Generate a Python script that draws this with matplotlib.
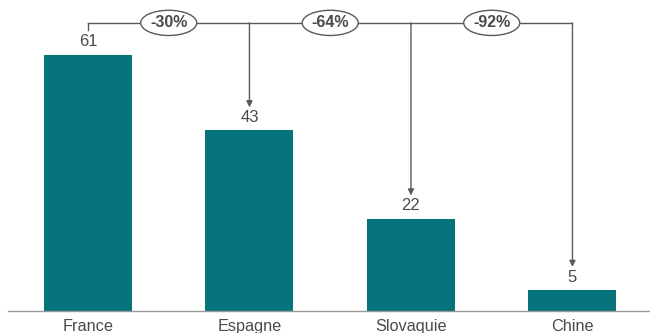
import matplotlib.pyplot as plt
from matplotlib.patches import Ellipse

# Data
pays = ["France", "Espagne", "Slovaquie", "Chine"]
valeurs = [61, 43, 22, 5]
ecarts = ["-30%", "-64%", "-92%"]

teal = "#07747c"
gris = "#4a4a4a"
ligne = "#5a5a5a"

plt.rcParams['font.family'] = ['Liberation Sans', 'DejaVu Sans']

fig = plt.figure(figsize=(6.5, 3.33), dpi=100)
ax = fig.add_axes([8 / 650, 22 / 333, 642 / 650, 311 / 333])

x = list(range(len(pays)))
ax.bar(x, valeurs, width=0.545, color=teal)

for xi, v in zip(x, valeurs):
    ax.text(xi, v + 1.3, str(v), ha="center", va="bottom", fontsize=12, color=gris)

# bracket with arrows from the first bar to the others
y_top = 68.6
ax.plot([x[0], x[-1]], [y_top, y_top], color=ligne, lw=1)
ax.plot([x[0], x[0]], [y_top, y_top - 1.6], color=ligne, lw=1)
for xi, v in zip(x[1:], valeurs[1:]):
    ax.annotate("", xy=(xi, v + 5.5), xytext=(xi, y_top),
                arrowprops=dict(arrowstyle="-|>", color=ligne, lw=1,
                                mutation_scale=9, shrinkA=0, shrinkB=0))

for i, e in enumerate(ecarts):
    ax.add_patch(Ellipse((i + 0.5, y_top), 0.347, 6.0, fc="white", ec=ligne,
                         lw=1, zorder=3))
    ax.text(i + 0.5, y_top, e, ha="center", va="center", fontsize=11.5,
            fontweight="bold", color=gris, zorder=4)

ax.set_xlim(-0.495, 3.48)
ax.set_ylim(0, 74.05)
ax.set_xticks(x)
ax.set_xticklabels(pays, fontsize=11.7, color=gris)
ax.tick_params(axis="x", length=0, pad=6)
ax.set_yticks([])
for s in ["top", "right", "left"]:
    ax.spines[s].set_visible(False)
ax.spines["bottom"].set_color("#999999")
ax.spines["bottom"].set_linewidth(1)

fig.savefig("out.png", dpi=100)
